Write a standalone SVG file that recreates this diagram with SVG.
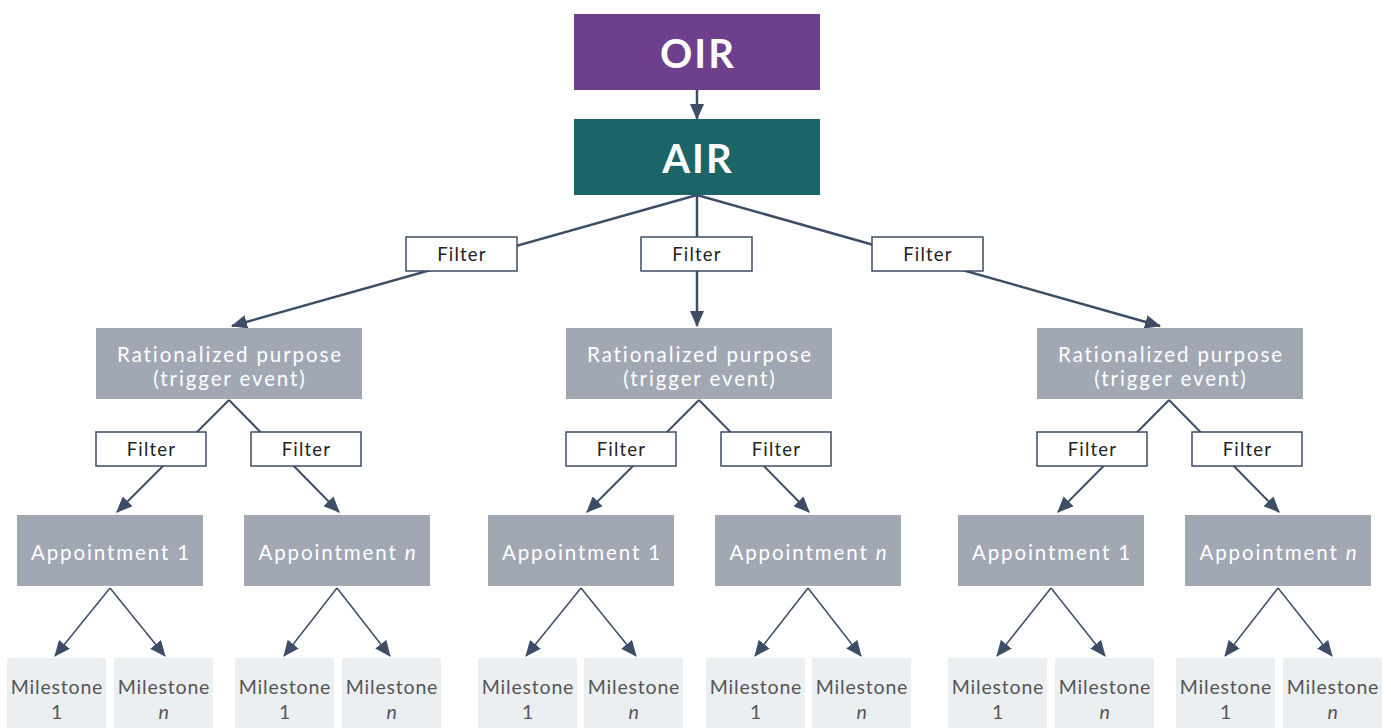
<svg xmlns="http://www.w3.org/2000/svg" width="1391" height="728" viewBox="0 0 1391 728">
<style>
.c{stroke:#3D4D66;fill:none}
.c1{stroke-width:2.5}
.c2{stroke-width:2}
.c3{stroke-width:1.5}
.rp{fill:#A1A8B3}
.ms{fill:#ECEFF2}
.flt{fill:#fff;stroke:#3D4D66;stroke-width:1.5}
.t{font-family:Lato,"Noto Sans",sans-serif;text-anchor:middle;dominant-baseline:central}
.tw{fill:#fff;font-size:20.5px;letter-spacing:1.9px}
.tf{fill:#222;font-size:18.5px;letter-spacing:1.2px}
.tm{fill:#555;font-size:19.5px;letter-spacing:0.8px}
.big{fill:#fff;font-size:40px;font-weight:bold;letter-spacing:2px}
</style>
<defs>
<marker id="ah" markerUnits="userSpaceOnUse" markerWidth="16" markerHeight="14" refX="15" refY="7" orient="auto">
<path d="M0,0 L16,7 L0,14 z" fill="#3D4D66"/>
</marker>
</defs>
<g id="connectors">
<line class="c c1" x1="697" y1="89" x2="697" y2="119" marker-end="url(#ah)"/>
<line class="c c1" x1="697" y1="195" x2="232" y2="326" marker-end="url(#ah)"/>
<line class="c c1" x1="697" y1="195" x2="697" y2="326" marker-end="url(#ah)"/>
<line class="c c1" x1="697" y1="195" x2="1160" y2="326" marker-end="url(#ah)"/>
<g id="lvl2">
<line class="c c2" x1="229" y1="400" x2="117" y2="512" marker-end="url(#ah)"/>
<line class="c c2" x1="229" y1="400" x2="339" y2="512" marker-end="url(#ah)"/>
<line class="c c2" x1="699" y1="400" x2="587" y2="512" marker-end="url(#ah)"/>
<line class="c c2" x1="699" y1="400" x2="809" y2="512" marker-end="url(#ah)"/>
<line class="c c2" x1="1169" y1="400" x2="1058" y2="512" marker-end="url(#ah)"/>
<line class="c c2" x1="1169" y1="400" x2="1279" y2="512" marker-end="url(#ah)"/>
</g>
<g id="lvl3">
<line class="c c3" x1="110" y1="588" x2="55" y2="656" marker-end="url(#ah)"/>
<line class="c c3" x1="110" y1="588" x2="165" y2="656" marker-end="url(#ah)"/>
<line class="c c3" x1="337" y1="588" x2="284" y2="656" marker-end="url(#ah)"/>
<line class="c c3" x1="337" y1="588" x2="390" y2="656" marker-end="url(#ah)"/>
<line class="c c3" x1="581" y1="588" x2="526" y2="656" marker-end="url(#ah)"/>
<line class="c c3" x1="581" y1="588" x2="636" y2="656" marker-end="url(#ah)"/>
<line class="c c3" x1="808" y1="588" x2="755" y2="656" marker-end="url(#ah)"/>
<line class="c c3" x1="808" y1="588" x2="861" y2="656" marker-end="url(#ah)"/>
<line class="c c3" x1="1051" y1="588" x2="997" y2="656" marker-end="url(#ah)"/>
<line class="c c3" x1="1051" y1="588" x2="1105" y2="656" marker-end="url(#ah)"/>
<line class="c c3" x1="1278" y1="588" x2="1225" y2="656" marker-end="url(#ah)"/>
<line class="c c3" x1="1278" y1="588" x2="1332" y2="656" marker-end="url(#ah)"/>
</g>
</g>
<g id="oir"><rect x="574" y="14" width="246" height="76" fill="#6E3F8C"/><text class="t big" x="698" y="53">OIR</text></g>
<g id="air"><rect x="574" y="119" width="246" height="76" fill="#1B6569"/><text class="t big" x="698" y="158">AIR</text></g>
<g id="f1"><rect class="flt" x="406" y="237" width="111" height="34"/><text class="t tf" x="462" y="254">Filter</text></g>
<g id="f2"><rect class="flt" x="641" y="237" width="111" height="34"/><text class="t tf" x="697" y="254">Filter</text></g>
<g id="f3"><rect class="flt" x="872" y="237" width="111" height="34"/><text class="t tf" x="928" y="254">Filter</text></g>
<g id="rp1"><rect class="rp" x="96" y="328" width="266" height="71"/><text class="t tw" x="230" y="354">Rationalized purpose</text><text class="t tw" x="230" y="378">(trigger event)</text></g>
<g id="rp2"><rect class="rp" x="566" y="328" width="266" height="71"/><text class="t tw" x="700" y="354">Rationalized purpose</text><text class="t tw" x="700" y="378">(trigger event)</text></g>
<g id="rp3"><rect class="rp" x="1037" y="328" width="266" height="71"/><text class="t tw" x="1171" y="354">Rationalized purpose</text><text class="t tw" x="1171" y="378">(trigger event)</text></g>
<g id="f11"><rect class="flt" x="96" y="432" width="110" height="34"/><text class="t tf" x="151.5" y="449">Filter</text></g>
<g id="f12"><rect class="flt" x="251" y="432" width="110" height="34"/><text class="t tf" x="306.5" y="449">Filter</text></g>
<g id="f21"><rect class="flt" x="566" y="432" width="110" height="34"/><text class="t tf" x="621.5" y="449">Filter</text></g>
<g id="f22"><rect class="flt" x="721" y="432" width="110" height="34"/><text class="t tf" x="776.5" y="449">Filter</text></g>
<g id="f31"><rect class="flt" x="1037" y="432" width="110" height="34"/><text class="t tf" x="1092.5" y="449">Filter</text></g>
<g id="f32"><rect class="flt" x="1192" y="432" width="110" height="34"/><text class="t tf" x="1247.5" y="449">Filter</text></g>
<g id="a11"><rect class="rp" x="17" y="515" width="186" height="71"/><text class="t tw" x="111" y="552">Appointment 1</text></g>
<g id="a12"><rect class="rp" x="244" y="515" width="186" height="71"/><text class="t tw" x="338" y="552">Appointment <tspan font-style="italic">n</tspan></text></g>
<g id="a21"><rect class="rp" x="488" y="515" width="186" height="71"/><text class="t tw" x="582" y="552">Appointment 1</text></g>
<g id="a22"><rect class="rp" x="715" y="515" width="186" height="71"/><text class="t tw" x="809" y="552">Appointment <tspan font-style="italic">n</tspan></text></g>
<g id="a31"><rect class="rp" x="958" y="515" width="186" height="71"/><text class="t tw" x="1052" y="552">Appointment 1</text></g>
<g id="a32"><rect class="rp" x="1185" y="515" width="186" height="71"/><text class="t tw" x="1279" y="552">Appointment <tspan font-style="italic">n</tspan></text></g>
<g id="m1"><rect class="ms" x="7" y="658" width="99" height="70"/><text class="t tm" x="57" y="686">Milestone</text><text class="t tm" x="57" y="711">1</text></g>
<g id="m2"><rect class="ms" x="114" y="658" width="99" height="70"/><text class="t tm" x="164" y="686">Milestone</text><text class="t tm" x="164" y="711" font-style="italic">n</text></g>
<g id="m3"><rect class="ms" x="235" y="658" width="99" height="70"/><text class="t tm" x="285" y="686">Milestone</text><text class="t tm" x="285" y="711">1</text></g>
<g id="m4"><rect class="ms" x="342" y="658" width="99" height="70"/><text class="t tm" x="392" y="686">Milestone</text><text class="t tm" x="392" y="711" font-style="italic">n</text></g>
<g id="m5"><rect class="ms" x="478" y="658" width="99" height="70"/><text class="t tm" x="528" y="686">Milestone</text><text class="t tm" x="528" y="711">1</text></g>
<g id="m6"><rect class="ms" x="584" y="658" width="99" height="70"/><text class="t tm" x="634" y="686">Milestone</text><text class="t tm" x="634" y="711" font-style="italic">n</text></g>
<g id="m7"><rect class="ms" x="706" y="658" width="99" height="70"/><text class="t tm" x="756" y="686">Milestone</text><text class="t tm" x="756" y="711">1</text></g>
<g id="m8"><rect class="ms" x="812" y="658" width="99" height="70"/><text class="t tm" x="862" y="686">Milestone</text><text class="t tm" x="862" y="711" font-style="italic">n</text></g>
<g id="m9"><rect class="ms" x="948" y="658" width="99" height="70"/><text class="t tm" x="998" y="686">Milestone</text><text class="t tm" x="998" y="711">1</text></g>
<g id="m10"><rect class="ms" x="1055" y="658" width="99" height="70"/><text class="t tm" x="1105" y="686">Milestone</text><text class="t tm" x="1105" y="711" font-style="italic">n</text></g>
<g id="m11"><rect class="ms" x="1176" y="658" width="99" height="70"/><text class="t tm" x="1226" y="686">Milestone</text><text class="t tm" x="1226" y="711">1</text></g>
<g id="m12"><rect class="ms" x="1283" y="658" width="99" height="70"/><text class="t tm" x="1333" y="686">Milestone</text><text class="t tm" x="1333" y="711" font-style="italic">n</text></g>
</svg>
